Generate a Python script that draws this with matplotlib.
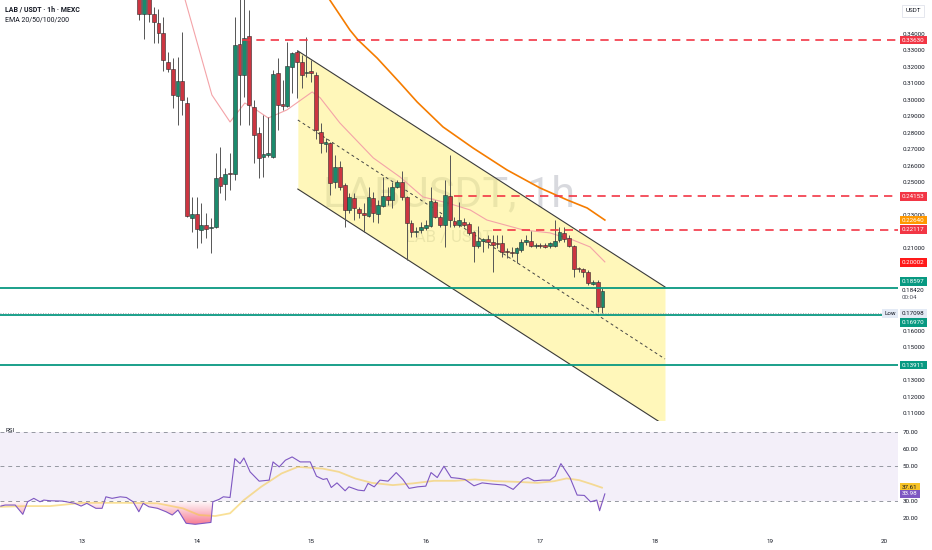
import matplotlib
matplotlib.use("Agg")
import matplotlib.pyplot as plt
import matplotlib.transforms as mtransforms
import matplotlib.path as mpath
import matplotlib.patches as mpatches
import numpy as np

plt.rcParams['font.family'] = ['Roboto', 'DejaVu Sans']

# hourly candles, hour 0 = day 13, 00:00
candle_hours = list(range(12, 110))
opens = [0.368, 0.3521, 0.366, 0.3521, 0.3467, 0.3406, 0.3230, 0.3188, 0.3024, 0.3115,
         0.2981, 0.2284, 0.2308, 0.2211, 0.2241, 0.2220, 0.2226, 0.2532, 0.2490, 0.2557,
         0.2550, 0.3339, 0.3151, 0.3388, 0.2957, 0.2799, 0.2654, 0.2666, 0.2654, 0.3163,
         0.2975, 0.2963, 0.3200, 0.3291, 0.3230, 0.3163, 0.3176, 0.3151, 0.2805, 0.2733,
         0.2739, 0.2502, 0.2593, 0.2484, 0.2332, 0.2405, 0.2338, 0.2314, 0.2296, 0.2405,
         0.2308, 0.2356, 0.2417, 0.2393, 0.2472, 0.2502, 0.2411, 0.2253, 0.2199, 0.2211,
         0.2223, 0.2235, 0.2381, 0.2290, 0.2241, 0.2417, 0.2265, 0.2241, 0.2259, 0.2247,
         0.2199, 0.2114, 0.2144, 0.2156, 0.2138, 0.2132, 0.2132, 0.2083, 0.2077, 0.2071,
         0.2089, 0.2138, 0.2144, 0.2114, 0.2120, 0.2120, 0.2114, 0.2114, 0.2150, 0.2193,
         0.2162, 0.2114, 0.1980, 0.1974, 0.1956, 0.1883, 0.1895, 0.1743]
highs = [0.372, 0.372, 0.369, 0.3564, 0.3552, 0.3503, 0.3291, 0.3254, 0.3260, 0.3412,
         0.3018, 0.2411, 0.2411, 0.2375, 0.2314, 0.2284, 0.2678, 0.2714, 0.2587, 0.2678,
         0.3503, 0.3620, 0.3650, 0.3546, 0.2999, 0.2836, 0.2908, 0.2896, 0.3182, 0.3254,
         0.3121, 0.3352, 0.3291, 0.3303, 0.3273, 0.3382, 0.3242, 0.3169, 0.2860, 0.2769,
         0.2745, 0.2666, 0.2630, 0.2496, 0.2435, 0.2435, 0.2350, 0.2375, 0.2472, 0.2441,
         0.2393, 0.2532, 0.2472, 0.2502, 0.2514, 0.2569, 0.2417, 0.2271, 0.2229, 0.2259,
         0.2271, 0.2472, 0.2393, 0.2302, 0.2514, 0.2666, 0.2290, 0.2381, 0.2284, 0.2259,
         0.2205, 0.2235, 0.2162, 0.2180, 0.2180, 0.2180, 0.2180, 0.2101, 0.2108, 0.2108,
         0.2156, 0.2180, 0.2205, 0.2132, 0.2132, 0.2132, 0.2138, 0.2271, 0.2229, 0.2229,
         0.2180, 0.2120, 0.1986, 0.1980, 0.1968, 0.1907, 0.1907, 0.1859]
lows = [0.3485, 0.3370, 0.3473, 0.3345, 0.3345, 0.3176, 0.3169, 0.2951, 0.2848, 0.2908,
        0.2290, 0.2199, 0.2101, 0.2132, 0.2162, 0.2071, 0.2220, 0.2435, 0.2393, 0.2453,
        0.2514, 0.2848, 0.3018, 0.2848, 0.2617, 0.2526, 0.2532, 0.2654, 0.2648, 0.2817,
        0.2939, 0.2957, 0.3042, 0.3012, 0.3072, 0.3139, 0.3109, 0.2760, 0.2678, 0.2684,
        0.2423, 0.2466, 0.2453, 0.2229, 0.2314, 0.2271, 0.2284, 0.2199, 0.2290, 0.2259,
        0.2253, 0.2350, 0.2362, 0.2344, 0.2466, 0.2393, 0.2029, 0.2168, 0.2168, 0.2193,
        0.2211, 0.2229, 0.2284, 0.2229, 0.2108, 0.2229, 0.2229, 0.2229, 0.2229, 0.2180,
        0.2017, 0.2101, 0.2077, 0.2101, 0.1956, 0.2101, 0.2047, 0.2041, 0.2047, 0.2010,
        0.2077, 0.2120, 0.2108, 0.2101, 0.2101, 0.2101, 0.2101, 0.2108, 0.2138, 0.2138,
        0.2108, 0.1925, 0.1956, 0.1925, 0.1877, 0.1877, 0.1713, 0.17098]
closes = [0.3521, 0.366, 0.3521, 0.3473, 0.3406, 0.3242, 0.3188, 0.3030, 0.3115, 0.2999,
          0.2296, 0.2308, 0.2217, 0.2241, 0.2217, 0.2226, 0.2526, 0.2478, 0.2550, 0.2550,
          0.3333, 0.3151, 0.3376, 0.2969, 0.2787, 0.2648, 0.2672, 0.2678, 0.3157, 0.2969,
          0.2963, 0.3206, 0.3285, 0.3230, 0.3151, 0.3169, 0.3163, 0.2817, 0.2739, 0.2745,
          0.2496, 0.2593, 0.2472, 0.2332, 0.2411, 0.2344, 0.2314, 0.2302, 0.2411, 0.2314,
          0.2362, 0.2417, 0.2393, 0.2472, 0.2502, 0.2411, 0.2253, 0.2199, 0.2205, 0.2229,
          0.2241, 0.2387, 0.2290, 0.2241, 0.2423, 0.2271, 0.2241, 0.2271, 0.2241, 0.2193,
          0.2114, 0.2144, 0.2156, 0.2138, 0.2120, 0.2126, 0.2077, 0.2077, 0.2071, 0.2101,
          0.2138, 0.2150, 0.2114, 0.2120, 0.2114, 0.2108, 0.2132, 0.2144, 0.2199, 0.2156,
          0.2114, 0.1974, 0.1974, 0.1956, 0.1889, 0.1895, 0.1743, 0.1842]

# EMA lines (hour, price)
ema20_h = [21.6, 27.2, 31.0, 34.1, 35.6, 39.0, 42.9, 48.2, 49.9, 54.0, 61.0, 66.6,
           71.4, 76.5, 81.3, 84.8, 92.4, 98.0, 102.8, 106.4, 109.5]
ema20_v = [0.3606, 0.3030, 0.2866, 0.2981, 0.2957, 0.2890, 0.2939, 0.3048, 0.3012,
           0.2860, 0.2648, 0.2532, 0.2411, 0.2375, 0.2332, 0.2271, 0.2211, 0.2193,
           0.2150, 0.2108, 0.2017]
ema50_h = [51.9, 56.1, 57.8, 61.8, 66.6, 70.2, 75.6, 81.9, 89.0, 95.9, 101.6, 105.8, 109.5]
ema50_v = [0.3606, 0.3424, 0.3364, 0.3254, 0.3103, 0.2987, 0.2836, 0.2708, 0.2575,
           0.2466, 0.2393, 0.2344, 0.2271]

# RSI (hour, value) and its moving average
rsi_h = [-17.0, -16.1, -14.0, -12.4, -11.4, -10.1, -8.8, -8.0, -6.7, -4.1, -1.5, -0.2,
         1.0, 2.9, 4.2, 5.0, 6.3, 8.0, 9.3, 10.7, 11.9, 12.8, 14.0, 15.8, 17.6, 18.9,
         20.1, 21.8, 23.7, 27.0, 27.4, 28.7, 29.6, 31.0, 32.0, 33.1, 33.9, 35.2, 37.1,
         39.2, 40.0, 41.3, 42.6, 44.0, 45.7, 47.8, 49.1, 50.5, 51.3, 52.2, 53.4, 55.1,
         55.9, 57.8, 59.1, 59.9, 61.2, 62.4, 64.1, 65.8, 67.2, 68.5, 70.3, 72.0, 73.1,
         74.4, 75.8, 77.3, 79.0, 80.2, 82.1, 83.8, 85.9, 88.6, 90.3, 92.4, 93.4, 94.7,
         96.4, 98.0, 99.1, 100.3, 102.2, 103.7, 105.2, 106.5, 107.8, 108.4, 109.5]
rsi_v = [26.9, 27.5, 27.5, 22.1, 29.4, 31.4, 29.4, 30.4, 30.0, 29.8, 28.5, 26.9,
         28.5, 25.6, 25.6, 32.3, 31.4, 32.3, 31.9, 29.4, 23.6, 28.5, 26.5, 25.6, 23.6,
         21.7, 24.6, 16.9, 16.3, 17.4, 29.4, 30.8, 32.3, 31.9, 54.5, 51.6, 54.9, 46.8,
         41.4, 42.0, 52.6, 49.7, 53.6, 55.5, 52.6, 52.6, 44.3, 42.4, 42.9, 37.7, 40.4,
         35.8, 38.1, 36.2, 35.8, 40.1, 38.1, 42.0, 41.4, 46.4, 42.4, 37.2, 38.1, 38.5,
         46.4, 43.5, 50.1, 43.5, 43.0, 42.4, 38.7, 40.4, 39.7, 39.1, 36.6, 42.4, 43.5,
         41.6, 42.0, 42.0, 44.3, 51.6, 43.5, 33.3, 33.1, 29.4, 30.4, 24.2, 33.98]
rsi_ma_h = [-17.0, -11.8, -6.7, 0.2, 8.9, 15.8, 21.1, 24.5, 27.9, 31.0, 33.9, 37.5,
            41.8, 45.2, 50.4, 53.8, 57.3, 60.7, 65.1, 69.3, 73.7, 78.1, 82.3, 86.7,
            91.0, 95.4, 98.9, 101.5, 104.1, 106.7, 108.9]
rsi_ma_v = [26.5, 26.9, 26.9, 28.8, 28.8, 28.5, 25.6, 21.7, 21.1, 22.7, 30.4, 38.1,
            45.9, 49.7, 48.7, 46.8, 42.9, 40.4, 39.1, 40.1, 41.6, 41.6, 42.4, 41.4,
            41.0, 40.4, 41.4, 43.0, 42.0, 39.7, 37.61]

# drawings
resist_levels = [0.33630, 0.24153, 0.22117]
resist_start = [33.5, 78, 86]
support_levels = [0.18597, 0.16970, 0.13911]
low_price = 0.17098
last_price = 0.18420
channel_h = [45.2, 122.1]
channel_upper = [0.3297, 0.1865]
channel_mid = [0.2878, 0.1428]
channel_lower = [0.2459, 0.1025]

# scale ticks that stay visible next to the coloured tags
price_ticks = [0.11, 0.12, 0.13, 0.15, 0.16, 0.21, 0.23, 0.25, 0.26, 0.27, 0.28,
               0.29, 0.30, 0.31, 0.32, 0.33, 0.34]
rsi_ticks = [20, 30, 50, 60, 70]
day_labels = ['13', '14', '15', '16', '17', '18', '19', '20']

RED = '#cc3541'
GREEN = '#1b8a6c'
TXT = '#131722'

fig = plt.figure(figsize=(9.32, 5.5), dpi=100)
ax = fig.add_axes([0, 129 / 550, 898 / 932, 421 / 550])
rax = fig.add_axes([0, 19 / 550, 898 / 932, 110 / 550])

xlim = (-17.18, 170.9)
ax.set_xlim(*xlim)
ax.set_ylim(0.10517, 0.3606)

for a in (ax, rax):
    for s in a.spines.values():
        s.set_visible(False)

# watermark
ax.text(0.5, 0.537, 'LABUSDT, 1h', transform=ax.transAxes, ha='center', va='center',
        fontsize=31, color='#b8bbc4', alpha=0.55, zorder=0.5)
ax.text(0.5, 0.437, 'LAB / USDT', transform=ax.transAxes, ha='center', va='center',
        fontsize=12, color='#b8bbc4', alpha=0.55, zorder=0.5)

# channel
ax.fill_between(channel_h, channel_lower, channel_upper, color='#fff176', alpha=0.5,
                lw=0, zorder=1)
ax.plot(channel_h, channel_upper, color='#3a3a3a', lw=0.8, zorder=2)
ax.plot(channel_h, channel_lower, color='#3a3a3a', lw=0.8, zorder=2)
ax.plot(channel_h, channel_mid, color='#444444', lw=0.7, ls=(0, (3, 3)), zorder=2)

# EMAs
ax.plot(ema20_h, ema20_v, color='#f4a3a8', lw=0.8, zorder=2.5)
ax.plot(ema50_h, ema50_v, color='#f57c00', lw=1.2, zorder=2.5)

# candles
o = np.array(opens)
c = np.array(closes)
up = c >= o
cols = np.where(up, GREEN, RED)
ax.vlines(candle_hours, lows, highs, color='#555555', lw=0.7, zorder=3)
ax.bar(candle_hours, np.maximum(np.abs(c - o), 0.0006), bottom=np.minimum(o, c),
       width=0.8, color=cols, edgecolor='#2b2b2b', lw=0.4, zorder=4)

# horizontal levels
for lvl, st in zip(resist_levels, resist_start):
    ax.plot([st, xlim[1]], [lvl, lvl], color='#f23645', lw=1.2, ls=(0, (5, 3.6)), zorder=5)
for lvl in support_levels:
    ax.axhline(lvl, color='#089981', lw=1.3, zorder=5)
ax.axhline(low_price, color='#9598a1', lw=0.6, ls=(0, (1, 2)), zorder=4.5)

# price scale
ax.yaxis.tick_right()
ax.set_yticks(price_ticks)
ax.yaxis.set_major_formatter(matplotlib.ticker.FormatStrFormatter('%.5f'))
ax.tick_params(axis='y', length=0, pad=3.6, labelsize=4.5, labelcolor=TXT)
ax.set_xticks([])

tr = mtransforms.blended_transform_factory(ax.transAxes, ax.transData)


def tag(a, trans, y, text, fc, tc, dy=0):
    a.annotate(text, xy=(1, y), xycoords=trans, xytext=(2.9, -dy * 0.72),
               textcoords='offset points', ha='left', va='center', fontsize=4.5,
               color=tc, bbox=dict(boxstyle='square,pad=0.3', fc=fc, ec='none'),
               annotation_clip=False, zorder=10)


tag(ax, tr, resist_levels[0], '0.33630', '#f23645', 'white')
tag(ax, tr, resist_levels[1], '0.24153', '#f23645', 'white')
tag(ax, tr, ema50_v[-1], '0.22640', '#ff9800', 'white')
tag(ax, tr, resist_levels[2], '0.22117', '#f23645', 'white')
tag(ax, tr, 0.20002, '0.20002', '#ff1a1a', 'white', dy=-2.5)
tag(ax, tr, support_levels[0], '0.18597', '#089981', 'white', dy=-6)
tag(ax, tr, last_price, '0.18420', 'white', TXT)
tag(ax, tr, last_price, '00:04', 'white', '#50535e', dy=7)
tag(ax, tr, low_price, '0.17098', '#e3eaf5', TXT, dy=1)
tag(ax, tr, support_levels[1], '0.16970', '#089981', 'white', dy=7.5)
tag(ax, tr, support_levels[2], '0.13911', '#089981', 'white')
ax.annotate('Low', xy=(1, low_price), xycoords=tr, xytext=(-1.5, -0.7),
            textcoords='offset points', ha='right', va='center', fontsize=4.5, color=TXT,
            bbox=dict(boxstyle='square,pad=0.3', fc='#e3eaf5', ec='none'),
            annotation_clip=False, zorder=10)

# RSI pane
rax.axhspan(30, 70, color='#7e57c2', alpha=0.09, lw=0, zorder=0)
for lvl in (70, 50, 30):
    rax.axhline(lvl, color='#9598a1', lw=0.7, ls=(0, (4, 4)), zorder=1)

rh = np.array(rsi_h)
rv = np.array(rsi_v)
poly = rax.fill_between(rh, rv, 30, where=rv < 30, interpolate=True, color='none', lw=0)
paths = poly.get_paths()
if paths:
    cp = mpath.Path.make_compound_path(*paths)
    patch = mpatches.PathPatch(cp, transform=rax.transData, fc='none', ec='none')
    rax.add_patch(patch)
    grad = np.zeros((100, 2, 4))
    grad[..., 0] = 242 / 255
    grad[..., 1] = 54 / 255
    grad[..., 2] = 90 / 255
    grad[..., 3] = np.linspace(0.75, 0.0, 100)[:, None]
    im = rax.imshow(grad, extent=(xlim[0], xlim[1], 14, 30), origin='lower', aspect='auto',
                    zorder=1.5, interpolation='bilinear')
    im.set_clip_path(patch)

rax.plot(rsi_ma_h, rsi_ma_v, color='#f5c842', lw=1.3, alpha=0.55, zorder=2)
rax.plot(rsi_h, rsi_v, color='#7e57c2', lw=0.8, zorder=3)
rax.set_xlim(*xlim)
rax.set_ylim(12.4, 76.4)

rax.yaxis.tick_right()
rax.set_yticks(rsi_ticks)
rax.yaxis.set_major_formatter(matplotlib.ticker.FormatStrFormatter('%.2f'))
rax.tick_params(axis='y', length=0, pad=3.6, labelsize=4.5, labelcolor=TXT)
rax.set_xticks([24 * i for i in range(len(day_labels))])
rax.set_xticklabels(day_labels)
rax.tick_params(axis='x', length=0, pad=6, labelsize=4.5, labelcolor=TXT)

rtr = mtransforms.blended_transform_factory(rax.transAxes, rax.transData)
tag(rax, rtr, rsi_ma_v[-1], '37.61', '#f7c325', TXT)
tag(rax, rtr, rsi_v[-1], '33.98', '#7e57c2', 'white')
rax.text(5 / 898, 0.91, 'RSI', transform=rax.transAxes, fontsize=4.5, color=TXT,
         ha='left', va='center')

# header
fig.text(5 / 932, 1 - 10 / 550, 'LAB / USDT · 1h · MEXC', fontsize=5, fontweight='bold',
         color=TXT, ha='left', va='center')
fig.text(5 / 932, 1 - 20 / 550, 'EMA 20/50/100/200', fontsize=5, color=TXT,
         ha='left', va='center')
fig.text(913 / 932, 1 - 11 / 550, 'USDT', fontsize=4.5, color=TXT, ha='center', va='center',
         bbox=dict(boxstyle='square,pad=0.5', fc='white', ec='#e0e3eb', lw=0.6))

fig.savefig('out.png', dpi=100)
